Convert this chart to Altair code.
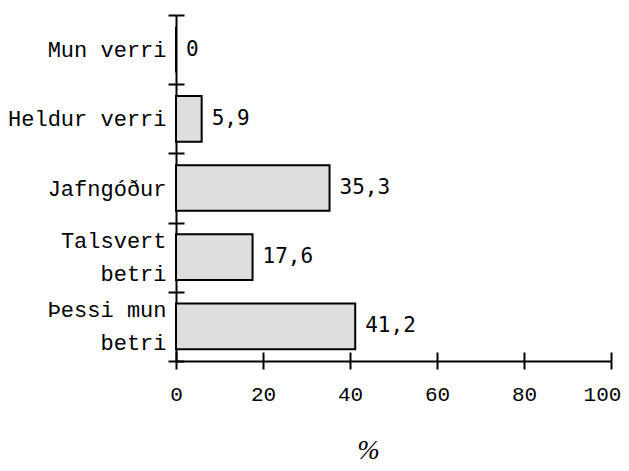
import altair as alt
import pandas as pd

categories = ["Mun verri", "Heldur verri", "Jafngóður", "Talsvert betri", "Þessi mun betri"]
values = [0, 5.9, 35.3, 17.6, 41.2]
value_labels = ["0", "5,9", "35,3", "17,6", "41,2"]
x_ticks = [0, 20, 40, 60, 80, 100]
multi_line = {
    "Talsvert betri": ["Talsvert", "betri\u00a0"],
    "Þessi mun betri": ["Þessi mun", "betri\u00a0\u00a0"],
}

df = pd.DataFrame({"cat": categories, "val": values, "lab": value_labels})

label_expr = "datum.label"
for k, lines in multi_line.items():
    arr = "[" + ",".join("'" + s + "'" for s in lines) + "]"
    label_expr = f"datum.label == '{k}' ? {arr} : ({label_expr})"
multi_test = " || ".join(f"datum.value == '{k}'" for k in multi_line)

MONO = "Liberation Mono"
FS = 22
LH = 33

xscale = alt.Scale(domain=[0, 100], nice=False, zero=True)
yscale = alt.Scale(domain=categories, paddingInner=0, paddingOuter=0)

base = alt.Chart(df)

bars = base.mark_bar(
    fill="#dedede", stroke="black", strokeWidth=2,
    height=alt.RelativeBandSize(0.66),
).encode(
    x=alt.X("val:Q", scale=xscale, axis=alt.Axis(
        orient="bottom", values=x_ticks, tickSize=8, tickWidth=2, tickColor="black",
        domainWidth=2, domainColor="black", grid=False,
        labelFont=MONO, labelFontSize=21, labelColor="black", labelPadding=14,
        labelFlush=False, labelOverlap=False,
        labelOffset={"condition": {"test": f"datum.value == {x_ticks[-1]}", "value": -9}, "value": 0},
        title="%", titleFont="Liberation Serif", titleFontStyle="italic",
        titleFontWeight="normal", titleFontSize=27, titleColor="black",
        titleX=192, titleY=89, titleAlign="center", titleBaseline="middle",
        titleAnchor="start",
    )),
    y=alt.Y("cat:N", sort=categories, scale=yscale, axis=alt.Axis(
        orient="left", tickBand="extent", tickSize=8, tickWidth=2, tickColor="black",
        domainWidth=2, domainColor="black", grid=False,
        labelFont=MONO, labelFontSize=FS, labelColor="black", labelPadding=2,
        labelLineHeight=LH, labelExpr=label_expr, title=None,
        labelOffset={"condition": {"test": multi_test, "value": -LH / 2}, "value": 0},
    )),
)

text = base.mark_text(
    align="left", baseline="middle", dx=10, font="DejaVu Sans Mono", fontSize=21, color="black",
).encode(
    x=alt.X("val:Q", scale=xscale),
    y=alt.Y("cat:N", sort=categories, scale=yscale),
    text="lab:N",
)

inner = alt.layer(bars, text)

ghost = base.mark_bar(opacity=0).encode(
    x=alt.X("val:Q", scale=xscale, axis=alt.Axis(
        orient="bottom", offset=-9, values=x_ticks, tickSize=9, tickWidth=2, tickColor="black",
        domain=False, labels=False, grid=False, title=None,
    )),
    y=alt.Y("cat:N", sort=categories, scale=yscale, axis=alt.Axis(
        orient="left", offset=-8, tickBand="extent", tickSize=8, tickWidth=2, tickColor="black",
        domain=False, labels=False, grid=False, title=None,
    )),
)

chart = alt.layer(inner, ghost).resolve_axis(x="independent", y="independent").properties(
    width=435, height=346,
    autosize=alt.AutoSizeParams(type="none"),
    padding={"left": 168, "top": 7, "right": 10, "bottom": 102},
    background="white",
).configure_view(stroke=None)

chart.save("out.html", embed_options={"renderer": "svg", "actions": False})
